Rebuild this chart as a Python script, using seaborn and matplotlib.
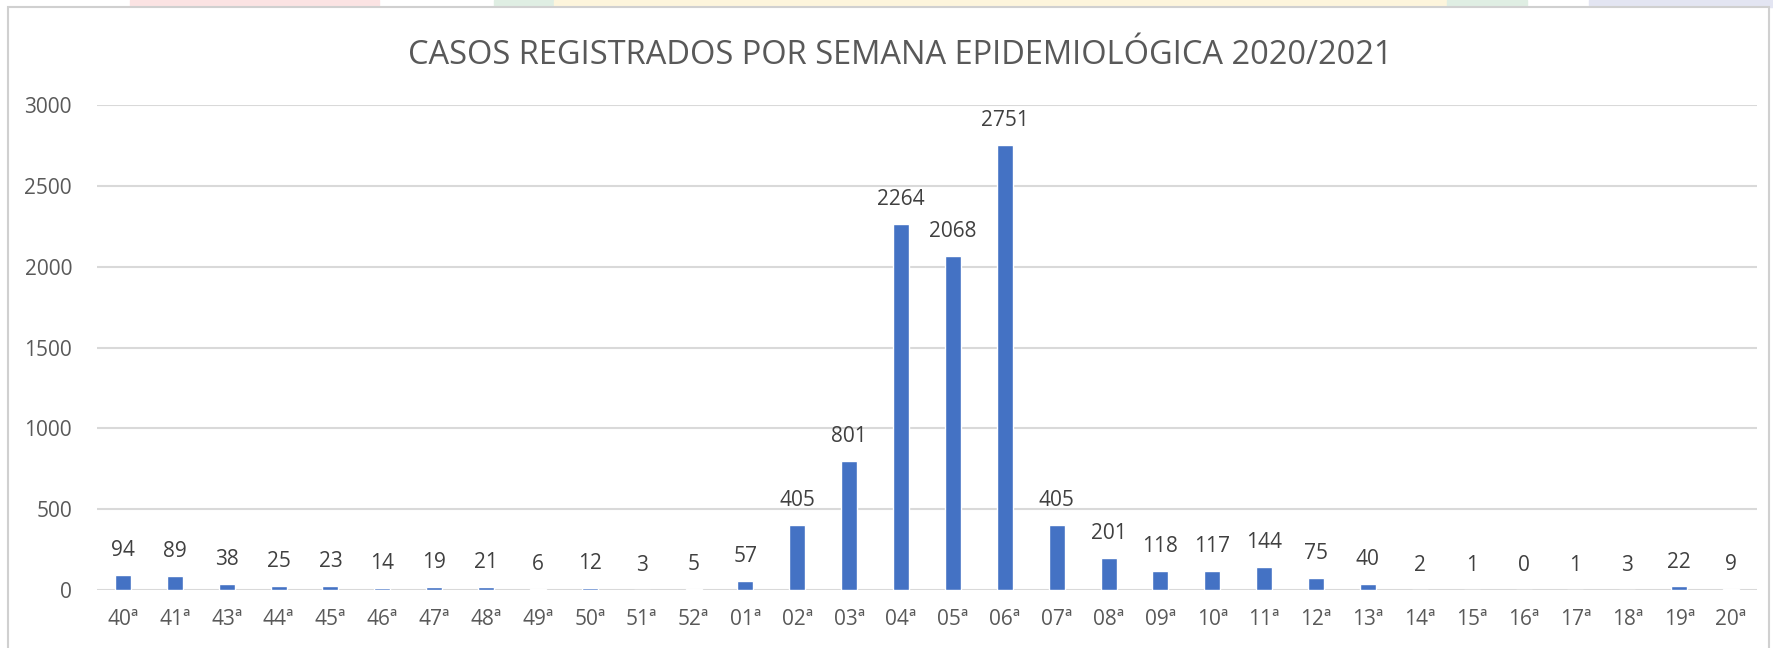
import matplotlib
matplotlib.use("Agg")
import matplotlib.pyplot as plt
import seaborn as sns
import pandas as pd
from matplotlib.patches import Rectangle

# data
semanas = ["40ª", "41ª", "43ª", "44ª", "45ª", "46ª", "47ª", "48ª", "49ª", "50ª", "51ª", "52ª",
           "01ª", "02ª", "03ª", "04ª", "05ª", "06ª", "07ª", "08ª", "09ª", "10ª",
           "11ª", "12ª", "13ª", "14ª", "15ª", "16ª", "17ª", "18ª", "19ª", "20ª"]
casos = [94, 89, 38, 25, 23, 14, 19, 21, 6, 12, 3, 5,
         57, 405, 801, 2264, 2068, 2751, 405, 201, 118, 117,
         144, 75, 40, 2, 1, 0, 1, 3, 22, 9]
y_ticks = [0, 500, 1000, 1500, 2000, 2500, 3000]

df = pd.DataFrame({"semana": semanas, "casos": casos})

sns.set_style("white")
plt.rcParams["font.family"] = ["Open Sans", "DejaVu Sans"]

W, H = 1773, 648
fig = plt.figure(figsize=(W / 100, H / 100), dpi=100)

# pastel strip at the very top and the chart frame
strip = [(130, 379, "#fbe3e3"), (494, 554, "#dfeee3"), (554, 1447, "#fdf5dc"),
         (1447, 1527, "#dfeee3"), (1589, 1773, "#e3e5f2")]
for x0, x1, c in strip:
    fig.patches.append(Rectangle((x0 / W, 1 - 7 / H), (x1 - x0) / W, 7 / H,
                                 transform=fig.transFigure, color=c, zorder=-2))
fig.patches.append(Rectangle((8 / W, -0.01), (W - 12) / W, 1 - 7 / H + 0.01,
                             transform=fig.transFigure, facecolor="white",
                             edgecolor="#d0d0d0", linewidth=1.5, zorder=-1))

ax = fig.add_axes([97 / W, 1 - 590 / H, (1757 - 97) / W, (590 - 105) / H])
ax.set_facecolor("none")
ax.set_zorder(1)

sns.barplot(data=df, x="semana", y="casos", color="#4472C4", width=0.31,
            saturation=1, ax=ax, zorder=3)

for cont in ax.containers:
    ax.bar_label(cont, labels=[str(v) for v in casos], padding=10,
                 fontsize=15, color="#404040")

ax.set_ylim(0, 3000)
ax.set_yticks(y_ticks)
ax.set_xlim(-0.5, len(semanas) - 0.5)
ax.yaxis.grid(True, color="#d9d9d9", linewidth=1.5, zorder=0)
ax.set_axisbelow(True)
for s in ax.spines.values():
    s.set_visible(False)
ax.tick_params(axis="y", length=0, pad=18, labelsize=15, labelcolor="#595959")
ax.tick_params(axis="x", length=0, pad=14, labelsize=15, labelcolor="#595959")
ax.set_xlabel("")
ax.set_ylabel("")

fig.text(0.508, 1 - 55 / H, "CASOS REGISTRADOS POR SEMANA EPIDEMIOLÓGICA 2020/2021",
         ha="center", va="center", fontsize=23.5, color="#595959")

fig.savefig("out.png", dpi=100)
